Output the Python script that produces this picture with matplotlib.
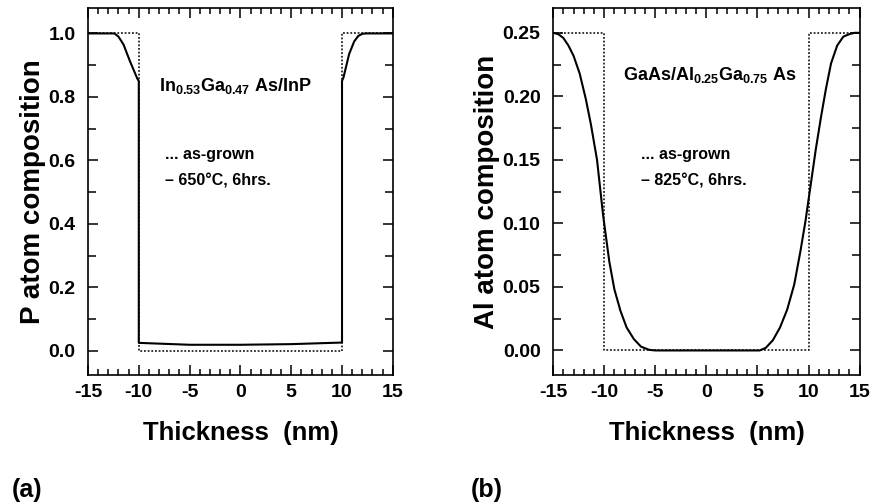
import numpy as np
import matplotlib.pyplot as plt
from matplotlib.ticker import MultipleLocator

plt.rcParams['font.family'] = 'Liberation Sans'
plt.rcParams['font.weight'] = 'bold'
plt.rcParams['mathtext.fontset'] = 'custom'
plt.rcParams['mathtext.rm'] = 'Liberation Sans:bold'
plt.rcParams['mathtext.bf'] = 'Liberation Sans:bold'

# (a) In0.53Ga0.47As/InP, P composition
a_grown_x = [-15, -10, -10, 10, 10, 15]
a_grown_y = [1.0, 1.0, 0.0, 0.0, 1.0, 1.0]
a_ann_x = [-15, -13, -12.4, -12.0, -11.5, -10.9, -10.15, -10.0, -10.0, -5, 0, 5, 10.0, 10.0,
           10.15, 10.7, 11.2, 11.6, 12.0, 12.4, 13, 15]
a_ann_y = [1.0, 1.0, 1.0, 0.99, 0.965, 0.915, 0.858, 0.85, 0.025, 0.019, 0.019, 0.021, 0.026, 0.85,
           0.862, 0.935, 0.975, 0.992, 0.999, 1.0, 1.0, 1.0]

# (b) GaAs/Al0.25Ga0.75As, Al composition
b_grown_x = [-15, -10, -10, 10, 10, 15]
b_grown_y = [0.25, 0.25, 0.0, 0.0, 0.25, 0.25]
b_ann_x = [-15, -14.5, -14, -13.5, -13, -12.4, -11.8, -11.3, -10.7, -10.1, -9.5, -9.0, -8.4,
           -7.8, -7.1, -6.4, -5.6, -5, 0, 5.2, 5.8, 6.5, 7.2, 7.9, 8.6, 9.2, 9.7, 10.2, 10.7,
           11.2, 11.7, 12.2, 12.8, 13.4, 14, 14.5, 15]
b_ann_y = [0.25, 0.249, 0.246, 0.240, 0.232, 0.218, 0.198, 0.178, 0.150, 0.106, 0.070, 0.048,
           0.031, 0.018, 0.009, 0.003, 0.0005, 0.0, 0.0, 0.0, 0.002, 0.008, 0.018, 0.032, 0.052,
           0.078, 0.102, 0.130, 0.158, 0.183, 0.206, 0.226, 0.240, 0.247, 0.249, 0.25, 0.25]

fig = plt.figure(figsize=(8.71, 5.03), dpi=100)
ax1 = fig.add_axes([0.101, 0.254, 0.350, 0.730])
ax2 = fig.add_axes([0.635, 0.254, 0.352, 0.730])

ax1.plot(a_grown_x, a_grown_y, color='black', linestyle=(0, (1.2, 1.2)), linewidth=1.1)
ax1.plot(a_ann_x, a_ann_y, color='black', linewidth=1.5)
ax2.plot(b_grown_x, b_grown_y, color='black', linestyle=(0, (1.2, 1.2)), linewidth=1.1)
ax2.plot(b_ann_x, b_ann_y, color='black', linewidth=1.5)

ax1.set_ylim(-0.077, 1.08)
ax1.yaxis.set_major_locator(MultipleLocator(0.2))
ax1.yaxis.set_minor_locator(MultipleLocator(0.1))
ax1.set_yticks(ax1.get_yticks())
ax1.set_yticklabels([f'{v:.1f}' for v in ax1.get_yticks()])
ax1.set_ylim(-0.077, 1.08)
ax2.set_ylim(-0.0195, 0.2695)
ax2.yaxis.set_major_locator(MultipleLocator(0.05))
ax2.yaxis.set_minor_locator(MultipleLocator(0.025))
ax2.set_yticks(ax2.get_yticks())
ax2.set_yticklabels([f'{v:.2f}' for v in ax2.get_yticks()])
ax2.set_ylim(-0.0195, 0.2695)

for ax in (ax1, ax2):
    ax.set_xlim(-15, 15)
    ax.xaxis.set_major_locator(MultipleLocator(5))
    ax.xaxis.set_minor_locator(MultipleLocator(1))
    ax.tick_params(which='both', direction='in', top=True, right=True, labelsize=14, width=1.1)
    ax.tick_params(which='major', length=7, pad=6)
    ax.tick_params(axis='y', which='major', pad=9)
    ax.tick_params(which='minor', length=4)
    ax.tick_params(axis='y', which='minor', length=6)
    ax.set_xticks(ax.get_xticks())
    ax.set_xticklabels([str(int(v)) for v in ax.get_xticks()])
    ax.set_xlabel('Thickness  (nm)', fontsize=18.5, fontweight='heavy', labelpad=15)
    for s in ax.spines.values():
        s.set_linewidth(1.2)
    ax.set_xlim(-15, 15)

ax1.set_ylabel('P atom composition', fontsize=20, fontweight='heavy', labelpad=2)
ax2.set_ylabel('Al atom composition', fontsize=20, fontweight='heavy', labelpad=2)

ax1.text(-0.5, 0.835, r'In$_{0.53}$Ga$_{0.47}$ As/InP', fontsize=13, ha='center', va='center')
ax1.text(-7.4, 0.62, '... as-grown', fontsize=11.5, ha='left', va='center')
ax1.text(-7.4, 0.535, '\u2013 650\u00b0C, 6hrs.', fontsize=11.5, ha='left', va='center')

ax2.text(0.3, 0.2165, r'GaAs/Al$_{0.25}$Ga$_{0.75}$ As', fontsize=13, ha='center', va='center')
ax2.text(-6.4, 0.1545, '... as-grown', fontsize=11.5, ha='left', va='center')
ax2.text(-6.4, 0.1335, '\u2013 825\u00b0C, 6hrs.', fontsize=11.5, ha='left', va='center')

fig.text(0.014, 0.012, '(a)', fontsize=18, fontweight='bold')
fig.text(0.541, 0.012, '(b)', fontsize=18, fontweight='bold')

fig.savefig('out.png', dpi=100)
